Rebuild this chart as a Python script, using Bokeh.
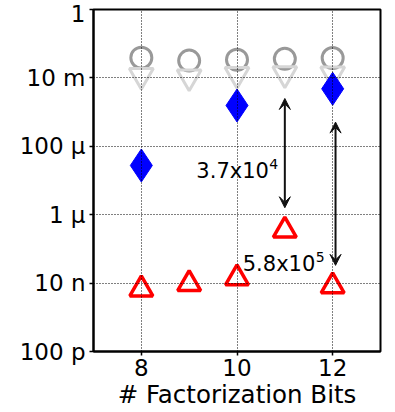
from bokeh.plotting import figure
from bokeh.models import (Range1d, FixedTicker, CustomJSTickFormatter, Arrow,
                          VeeHead)
from bokeh.embed import file_html
from bokeh.resources import INLINE
from bokeh.core.properties import value

# Factorization sizes and measured quantities per series
bits = [8, 9, 10, 11, 12]
circle_vals = [0.039, 0.032, 0.034, 0.036, 0.038]
tri_down_vals = [0.0118, 0.0107, 0.0126, 0.0132, 0.013]
diamond_bits = [8, 10, 12]
diamond_vals = [2.75e-5, 1.56e-3, 4.8e-3]
tri_up_vals = [6.6e-9, 9.5e-9, 1.39e-8, 3.46e-7, 8.1e-9]

# Ratio annotations: arrow x, arrow top, arrow bottom, label text
arrow_x = [11, 12.06]
arrow_top = [2.5e-3, 5.1e-4]
arrow_bottom = [1.6e-6, 3.3e-8]
ratio_base = ["3.7x10", "5.8x10"]
ratio_exp = ["4", "5"]
label_x = [9.15, 10.12]
label_y = [1.96e-5, 3.5e-8]

x_ticks = [8, 10, 12]
y_ticks = [1e-10, 1e-8, 1e-6, 1e-4, 1e-2, 1]
y_tick_labels = ["100 p", "10 n", "1 μ", "100 μ", "10 m", "1"]

FONT = "DejaVu Sans"

p = figure(width=395, height=412, y_axis_type="log",
           x_range=Range1d(7, 13), y_range=Range1d(1e-10, 1),
           output_backend="svg", toolbar_location=None,
           min_border_left=93, min_border_right=15,
           min_border_top=9, min_border_bottom=61)

p.background_fill_color = "white"
p.border_fill_color = "white"
p.outline_line_color = "black"
p.outline_line_width = 2

# Axes
p.xaxis.ticker = FixedTicker(ticks=x_ticks, minor_ticks=[])
p.yaxis.ticker = FixedTicker(ticks=y_ticks, minor_ticks=[])
p.yaxis.formatter = CustomJSTickFormatter(
    args=dict(tvals=y_ticks, names=y_tick_labels),
    code="""
    const e = Math.round(Math.log10(tick));
    for (let i = 0; i < tvals.length; i++) {
        if (Math.round(Math.log10(tvals[i])) === e) return names[i];
    }
    return "";
    """)
for ax in (p.xaxis[0], p.yaxis[0]):
    ax.axis_line_width = 2
    ax.axis_line_color = "black"
    ax.major_tick_out = 4
    ax.major_tick_in = 0
    ax.major_tick_line_width = 1.5
    ax.minor_tick_out = 0
    ax.minor_tick_in = 0
    ax.major_label_text_font = FONT
    ax.major_label_text_font_size = "23px"
    ax.major_label_text_color = "black"
p.yaxis.major_label_standoff = 4
p.xaxis.major_label_standoff = 3
p.xaxis.axis_label = "# Factorization Bits"
p.xaxis.axis_label_text_font = FONT
p.xaxis.axis_label_text_font_size = "24.5px"
p.xaxis.axis_label_text_font_style = "normal"
p.xaxis.axis_label_text_color = "black"
p.xaxis.axis_label_standoff = 1

# Dotted grid drawn over the markers
for g in (p.xgrid[0], p.ygrid[0]):
    g.grid_line_color = "black"
    g.grid_line_dash = "1 2"
    g.grid_line_width = 1
    g.level = "overlay"

# Series
p.scatter(bits, circle_vals, marker="circle", size=21,
          fill_color=None, line_color="#999999", line_width=3)
p.scatter(bits, tri_down_vals, marker="inverted_triangle", size=24,
          fill_color=None, line_color="#d6d6d6", line_width=3)
p.scatter(diamond_bits, diamond_vals, marker="diamond", size=33,
          fill_color="#0000ff", line_color="#0000ff", line_width=1)
p.scatter(bits, tri_up_vals, marker="triangle", size=23,
          fill_color=None, line_color="#ff0000", line_width=3.5)

# Double-headed ratio arrows
for xa, yt, yb in zip(arrow_x, arrow_top, arrow_bottom):
    p.add_layout(Arrow(
        x_start=xa, y_start=yb, x_end=xa, y_end=yt,
        line_color="#111111", line_width=2,
        start=VeeHead(size=11, fill_color="#111111", line_color="#111111", line_width=1),
        end=VeeHead(size=11, fill_color="#111111", line_color="#111111", line_width=1)))

# Ratio labels with superscript exponents
p.text(label_x, label_y, text=ratio_base, text_font=value(FONT),
       text_font_size="21px", text_baseline="alphabetic", text_align="left",
       text_color="black")
p.text(label_x, label_y, text=ratio_exp, text_font=value(FONT),
       text_font_size="14px", text_baseline="alphabetic", text_align="left",
       text_color="black", x_offset=73, y_offset=-7)

open("out.html", "w").write(file_html(p, INLINE))
